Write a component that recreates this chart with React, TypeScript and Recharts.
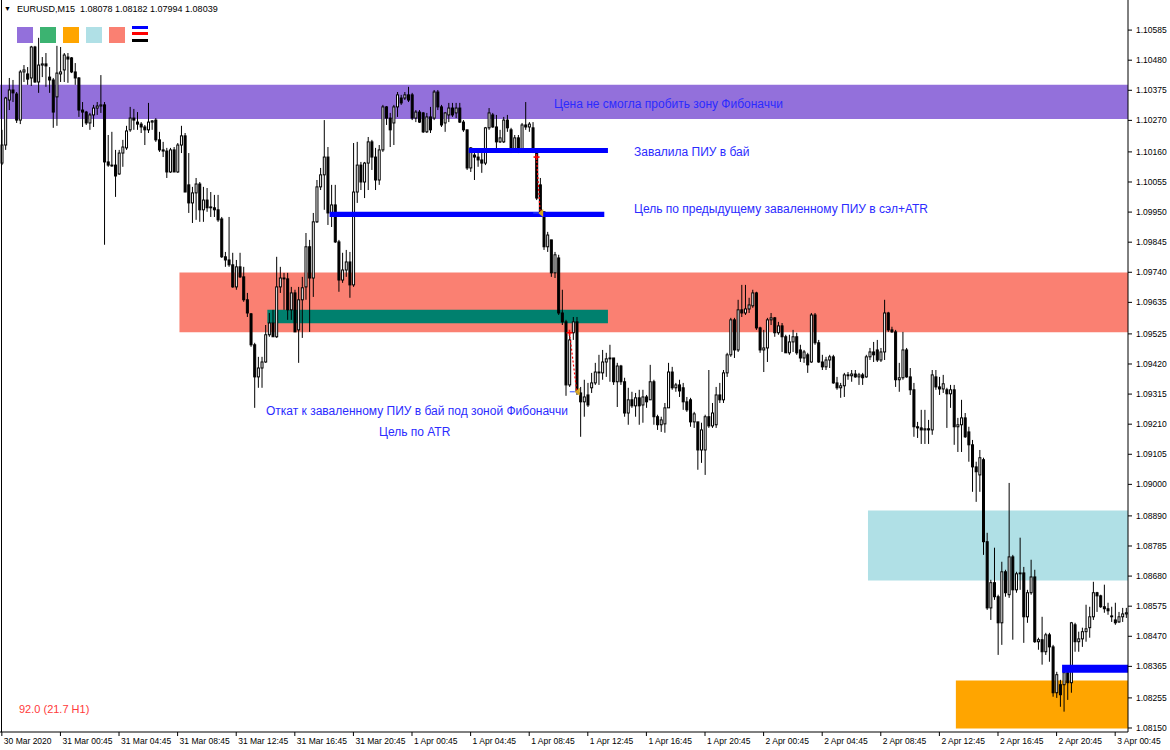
import React from 'react';
import { ComposedChart, Bar, XAxis, YAxis, ReferenceArea, ReferenceLine, ReferenceDot } from 'recharts';

// EURUSD M15 candles, 30 Mar 2020 20:45 .. 3 Apr 2020 01:30 (308 bars)
const opens = [
  1.10121,1.10184,1.10341,1.10376,1.10362,1.10271,1.10439,1.10432,1.10418,1.10526,
  1.10404,1.10463,1.10467,1.10421,1.10411,1.10352,1.10432,1.10446,1.10491,1.10488,
  1.10439,1.10418,1.10306,1.10299,1.10261,1.10289,1.10313,1.10320,1.10324,1.10125,
  1.10114,1.10114,1.10083,1.10156,1.10174,1.10237,1.10278,1.10264,1.10257,1.10247,
  1.10237,1.10264,1.10271,1.10202,1.10167,1.10163,1.10090,1.10167,1.10090,1.10184,
  1.10216,1.10045,1.09982,1.10017,1.10048,1.09958,1.09992,1.09968,1.09965,1.09958,
  1.09926,1.09794,1.09783,1.09766,1.09689,1.09759,1.09724,1.09644,1.09595,1.09487,
  1.09375,1.09406,1.09427,1.09522,1.09563,1.09515,1.09689,1.09720,1.09717,1.09609,
  1.09668,1.09539,1.09644,1.09689,1.09829,1.09720,1.09916,1.10038,1.10080,1.10142,
  1.09947,1.09975,1.09846,1.09713,1.09748,1.09776,1.09696,1.10020,1.10114,1.10055,
  1.10121,1.10195,1.10142,1.10062,1.10167,1.10317,1.10278,1.10261,1.10317,1.10348,
  1.10348,1.10359,1.10359,1.10278,1.10299,1.10296,1.10230,1.10282,1.10278,1.10369,
  1.10317,1.10261,1.10289,1.10313,1.10296,1.10313,1.10264,1.10237,1.10104,1.10149,
  1.10142,1.10132,1.10121,1.10244,1.10289,1.10247,1.10195,1.10195,1.10271,1.10237,
  1.10167,1.10209,1.10167,1.10254,1.10247,1.10244,1.10160,1.10045,1.09951,1.09829,
  1.09853,1.09738,1.09790,1.09598,1.09567,1.09347,1.09529,1.09567,1.09319,1.09288,
  1.09312,1.09337,1.09354,1.09392,1.09389,1.09427,1.09438,1.09441,1.09358,1.09413,
  1.09358,1.09249,1.09295,1.09274,1.09302,1.09277,1.09305,1.09295,1.09358,1.09236,
  1.09208,1.09211,1.09267,1.09392,1.09337,1.09347,1.09337,1.09288,1.09295,1.09218,
  1.09218,1.09120,1.09120,1.09236,1.09204,1.09208,1.09312,1.09295,1.09389,1.09452,
  1.09574,1.09469,1.09609,1.09598,1.09612,1.09623,1.09668,1.09546,1.09469,1.09476,
  1.09574,1.09581,1.09529,1.09553,1.09515,1.09459,1.09497,1.09515,1.09469,1.09441,
  1.09452,1.09427,1.09591,1.09494,1.09427,1.09410,1.09434,1.09445,1.09354,1.09337,
  1.09344,1.09382,1.09379,1.09385,1.09375,1.09382,1.09375,1.09445,1.09462,1.09469,
  1.09434,1.09462,1.09598,1.09539,1.09532,1.09365,1.09372,1.09469,1.09375,1.09330,
  1.09201,1.09197,1.09190,1.09194,1.09190,1.09375,1.09340,1.09333,1.09330,1.09316,
  1.09330,1.09201,1.09208,1.09232,1.09183,1.09138,1.09061,1.09033,1.09086,1.08800,
  1.08569,1.08657,1.08608,1.08517,1.08695,1.08615,1.08747,1.08632,1.08688,1.08691,
  1.08538,1.08622,1.08677,1.08451,1.08458,1.08416,1.08475,1.08433,1.08273,1.08301,
  1.08301,1.08343,1.08308,1.08510,1.08451,1.08461,1.08486,1.08500,1.08538,1.08622,
  1.08611,1.08573,1.08566,1.08541,1.08527,1.08520,1.08538,1.08548,
];

const highs = [
  1.10237,1.10352,1.10418,1.10411,1.10369,1.10446,1.10463,1.10456,1.10530,1.10530,
  1.10558,1.10491,1.10505,1.10456,1.10418,1.10530,1.10526,1.10505,1.10505,1.10491,
  1.10470,1.10421,1.10334,1.10303,1.10296,1.10324,1.10334,1.10428,1.10334,1.10219,
  1.10230,1.10167,1.10167,1.10202,1.10251,1.10317,1.10310,1.10299,1.10264,1.10254,
  1.10331,1.10271,1.10278,1.10230,1.10195,1.10174,1.10174,1.10177,1.10191,1.10251,
  1.10226,1.10156,1.10038,1.10069,1.10055,1.10038,1.10034,1.10020,1.10010,1.10010,
  1.09933,1.09811,1.09933,1.09808,1.09783,1.09808,1.09759,1.09668,1.09598,1.09494,
  1.09445,1.09445,1.09556,1.09598,1.09609,1.09794,1.09759,1.09738,1.09738,1.09689,
  1.09679,1.09689,1.09724,1.09877,1.09853,1.09947,1.10062,1.10104,1.10271,1.10177,
  1.10045,1.10045,1.09853,1.09808,1.09818,1.09811,1.10191,1.10195,1.10125,1.10125,
  1.10212,1.10202,1.10174,1.10184,1.10324,1.10320,1.10296,1.10324,1.10369,1.10359,
  1.10369,1.10387,1.10366,1.10306,1.10306,1.10299,1.10296,1.10317,1.10376,1.10376,
  1.10324,1.10299,1.10331,1.10331,1.10331,1.10331,1.10271,1.10237,1.10177,1.10167,
  1.10156,1.10156,1.10247,1.10313,1.10296,1.10289,1.10237,1.10282,1.10289,1.10244,
  1.10219,1.10219,1.10261,1.10334,1.10264,1.10264,1.10160,1.10069,1.09951,1.09881,
  1.09853,1.09811,1.09801,1.09679,1.09574,1.09532,1.09584,1.09584,1.09340,1.09365,
  1.09354,1.09389,1.09424,1.09452,1.09469,1.09459,1.09487,1.09441,1.09424,1.09417,
  1.09372,1.09337,1.09323,1.09319,1.09330,1.09330,1.09312,1.09417,1.09365,1.09243,
  1.09236,1.09284,1.09424,1.09410,1.09354,1.09365,1.09354,1.09305,1.09302,1.09253,
  1.09218,1.09215,1.09243,1.09399,1.09284,1.09340,1.09354,1.09399,1.09459,1.09581,
  1.09581,1.09644,1.09696,1.09696,1.09651,1.09679,1.09672,1.09550,1.09539,1.09581,
  1.09598,1.09584,1.09567,1.09563,1.09522,1.09522,1.09539,1.09529,1.09487,1.09469,
  1.09459,1.09598,1.09598,1.09504,1.09452,1.09445,1.09452,1.09452,1.09375,1.09354,
  1.09389,1.09392,1.09399,1.09399,1.09389,1.09389,1.09452,1.09476,1.09497,1.09504,
  1.09476,1.09644,1.09602,1.09550,1.09539,1.09424,1.09532,1.09476,1.09406,1.09354,
  1.09218,1.09260,1.09260,1.09225,1.09399,1.09399,1.09375,1.09382,1.09337,1.09347,
  1.09347,1.09232,1.09295,1.09249,1.09201,1.09155,1.09079,1.09120,1.09093,1.08831,
  1.08667,1.08779,1.08615,1.08730,1.08702,1.09005,1.08754,1.08695,1.08814,1.08712,
  1.08632,1.08737,1.08702,1.08465,1.08538,1.08482,1.08482,1.08440,1.08346,1.08318,
  1.08346,1.08364,1.08520,1.08517,1.08486,1.08500,1.08580,1.08573,1.08660,1.08625,
  1.08615,1.08650,1.08587,1.08573,1.08587,1.08555,1.08569,1.08569,
];

const lows = [
  1.10114,1.10167,1.10306,1.10334,1.10261,1.10257,1.10404,1.10394,1.10390,1.10401,
  1.10366,1.10421,1.10387,1.10366,1.10244,1.10251,1.10404,1.10404,1.10401,1.10435,
  1.10394,1.10282,1.10247,1.10254,1.10237,1.10247,1.10289,1.10296,1.09836,1.10108,
  1.10108,1.10003,1.10080,1.10108,1.10167,1.10230,1.10237,1.10237,1.10226,1.10184,
  1.10226,1.10237,1.10195,1.10160,1.10142,1.10069,1.10087,1.10090,1.10087,1.10156,
  1.10020,1.09947,1.09912,1.09923,1.09916,1.09916,1.09951,1.09933,1.09933,1.09916,
  1.09790,1.09759,1.09759,1.09686,1.09679,1.09720,1.09637,1.09584,1.09480,1.09267,
  1.09337,1.09337,1.09424,1.09515,1.09515,1.09511,1.09668,1.09609,1.09574,1.09574,
  1.09532,1.09424,1.09511,1.09644,1.09532,1.09654,1.09912,1.10027,1.09958,1.09905,
  1.09898,1.09842,1.09672,1.09703,1.09724,1.09651,1.09689,1.09982,1.10027,1.09999,
  1.10027,1.10097,1.10027,1.10045,1.10160,1.10254,1.10177,1.10184,1.10282,1.10324,
  1.10341,1.10334,1.10271,1.10264,1.10261,1.10226,1.10226,1.10226,1.10271,1.10306,
  1.10247,1.10230,1.10264,1.10282,1.10278,1.10261,1.10230,1.10097,1.10090,1.10062,
  1.10108,1.10087,1.10114,1.10237,1.10244,1.10160,1.10191,1.10191,1.10230,1.10156,
  1.10160,1.10156,1.10160,1.10237,1.10230,1.10156,1.09992,1.09933,1.09818,1.09811,
  1.09724,1.09720,1.09591,1.09556,1.09309,1.09340,1.09504,1.09312,1.09166,1.09236,
  1.09270,1.09319,1.09347,1.09347,1.09365,1.09375,1.09358,1.09347,1.09270,1.09347,
  1.09236,1.09208,1.09267,1.09236,1.09208,1.09215,1.09267,1.09295,1.09208,1.09190,
  1.09183,1.09180,1.09267,1.09330,1.09323,1.09305,1.09260,1.09253,1.09201,1.09197,
  1.09051,1.09075,1.09033,1.09197,1.09197,1.09197,1.09284,1.09284,1.09375,1.09445,
  1.09441,1.09462,1.09584,1.09591,1.09598,1.09616,1.09539,1.09459,1.09392,1.09427,
  1.09556,1.09515,1.09522,1.09462,1.09459,1.09452,1.09462,1.09452,1.09427,1.09424,
  1.09389,1.09424,1.09487,1.09424,1.09399,1.09399,1.09406,1.09351,1.09330,1.09302,
  1.09305,1.09365,1.09358,1.09372,1.09347,1.09347,1.09372,1.09434,1.09427,1.09427,
  1.09427,1.09434,1.09532,1.09529,1.09340,1.09323,1.09365,1.09372,1.09312,1.09166,
  1.09162,1.09141,1.09141,1.09141,1.09173,1.09330,1.09312,1.09319,1.09197,1.09267,
  1.09138,1.09113,1.09113,1.09162,1.09079,1.08974,1.08939,1.08974,1.08754,1.08562,
  1.08527,1.08597,1.08405,1.08440,1.08608,1.08604,1.08458,1.08622,1.08632,1.08447,
  1.08517,1.08615,1.08447,1.08423,1.08371,1.08405,1.08381,1.08259,1.08255,1.08224,
  1.08207,1.08248,1.08273,1.08416,1.08416,1.08433,1.08451,1.08465,1.08527,1.08555,
  1.08569,1.08552,1.08545,1.08520,1.08510,1.08517,1.08520,1.08534,
];

const closes = [
  1.10184,1.10348,1.10376,1.10366,1.10271,1.10439,1.10446,1.10414,1.10526,1.10404,
  1.10463,1.10467,1.10460,1.10411,1.10299,1.10435,1.10439,1.10498,1.10484,1.10439,
  1.10418,1.10306,1.10299,1.10261,1.10289,1.10313,1.10320,1.10324,1.10125,1.10114,
  1.10111,1.10076,1.10156,1.10177,1.10233,1.10278,1.10271,1.10257,1.10247,1.10237,
  1.10264,1.10268,1.10202,1.10167,1.10163,1.10090,1.10167,1.10090,1.10184,1.10216,
  1.10020,1.09982,1.10017,1.10048,1.09958,1.09992,1.09965,1.09965,1.09958,1.09923,
  1.09794,1.09783,1.09766,1.09689,1.09759,1.09724,1.09644,1.09598,1.09487,1.09375,
  1.09406,1.09427,1.09522,1.09563,1.09515,1.09689,1.09720,1.09717,1.09609,1.09668,
  1.09532,1.09644,1.09686,1.09829,1.09720,1.09916,1.10038,1.10080,1.10142,1.09947,
  1.09975,1.09846,1.09713,1.09748,1.09776,1.09696,1.10020,1.10114,1.10055,1.10121,
  1.10195,1.10142,1.10062,1.10167,1.10317,1.10278,1.10237,1.10317,1.10359,1.10331,
  1.10359,1.10341,1.10278,1.10299,1.10264,1.10230,1.10282,1.10237,1.10369,1.10317,
  1.10254,1.10296,1.10313,1.10289,1.10313,1.10264,1.10237,1.10104,1.10174,1.10142,
  1.10132,1.10121,1.10244,1.10296,1.10247,1.10195,1.10209,1.10271,1.10244,1.10160,
  1.10209,1.10167,1.10254,1.10247,1.10257,1.10160,1.09999,1.09951,1.09829,1.09870,
  1.09738,1.09801,1.09598,1.09567,1.09347,1.09504,1.09567,1.09323,1.09288,1.09305,
  1.09277,1.09354,1.09392,1.09389,1.09427,1.09438,1.09441,1.09358,1.09413,1.09358,
  1.09249,1.09295,1.09274,1.09302,1.09274,1.09305,1.09288,1.09358,1.09236,1.09208,
  1.09225,1.09267,1.09392,1.09337,1.09347,1.09326,1.09288,1.09260,1.09218,1.09246,
  1.09120,1.09190,1.09236,1.09204,1.09249,1.09312,1.09295,1.09389,1.09452,1.09574,
  1.09469,1.09609,1.09598,1.09612,1.09626,1.09668,1.09546,1.09469,1.09476,1.09574,
  1.09581,1.09529,1.09553,1.09515,1.09459,1.09497,1.09515,1.09459,1.09441,1.09462,
  1.09417,1.09591,1.09494,1.09427,1.09410,1.09434,1.09445,1.09354,1.09337,1.09344,
  1.09382,1.09379,1.09385,1.09375,1.09382,1.09372,1.09445,1.09462,1.09452,1.09434,
  1.09462,1.09598,1.09539,1.09532,1.09365,1.09372,1.09469,1.09375,1.09330,1.09201,
  1.09197,1.09190,1.09194,1.09190,1.09382,1.09340,1.09333,1.09351,1.09316,1.09330,
  1.09201,1.09208,1.09232,1.09166,1.09138,1.09061,1.09044,1.09093,1.08800,1.08569,
  1.08657,1.08608,1.08517,1.08695,1.08622,1.08747,1.08632,1.08688,1.08691,1.08538,
  1.08622,1.08677,1.08451,1.08458,1.08416,1.08475,1.08433,1.08273,1.08336,1.08266,
  1.08343,1.08308,1.08517,1.08451,1.08461,1.08486,1.08496,1.08538,1.08622,1.08611,
  1.08573,1.08566,1.08559,1.08538,1.08517,1.08538,1.08548,1.08552,
];

const timeLabels = [
  '30 Mar 2020', '31 Mar 00:45', '31 Mar 04:45', '31 Mar 08:45', '31 Mar 12:45',
  '31 Mar 16:45', '31 Mar 20:45', '1 Apr 00:45', '1 Apr 04:45', '1 Apr 08:45',
  '1 Apr 12:45', '1 Apr 16:45', '1 Apr 20:45', '2 Apr 00:45', '2 Apr 04:45',
  '2 Apr 08:45', '2 Apr 12:45', '2 Apr 16:45', '2 Apr 20:45', '3 Apr 00:45',
];
const timeLabelBars = [0, 16, 32, 48, 64, 80, 96, 112, 128, 144, 160, 176, 192, 208, 224, 240, 256, 272, 288, 304];

const priceTicks = [
  1.10585, 1.10480, 1.10375, 1.10270, 1.10160, 1.10055, 1.09950, 1.09845, 1.09740, 1.09635,
  1.09525, 1.09420, 1.09315, 1.09210, 1.09105, 1.09000, 1.08890, 1.08785, 1.08680, 1.08575,
  1.08470, 1.08365, 1.08255, 1.08150,
];

// zones: [first bar, last bar, low price, high price]
const zoneBars = [[0, 307], [49, 307], [73, 165], [237, 307], [261, 307]];
const zonePrices = [[1.10275, 1.10394], [1.09531, 1.09739], [1.09562, 1.09609], [1.08665, 1.08909], [1.08148, 1.08316]];
const zoneColors = ['#9370DB', '#FA8072', '#00806E', '#B0E0E6', '#FFA500'];

// blue levels: [first bar, last bar, low price, high price]
const levelBars = [[128, 165], [90, 164], [290, 307]];
const levelPrices = [[1.10156, 1.10174], [1.09933, 1.09951], [1.08343, 1.08371]];

// trades: entry bar, entry price, exit bar, exit price
const tradeEntryBars = [146, 155];
const tradeEntryPrices = [1.10142, 1.09529];
const tradeExitBars = [147, 157];
const tradeExitPrices = [1.09947, 1.09323];

const data = opens.map((o, i) => ({
  i,
  o,
  h: highs[i],
  l: lows[i],
  c: closes[i],
  range: [lows[i], highs[i]],
}));

const AXIS_FONT = '"Liberation Sans", Arial, sans-serif';

const Candle = (props: any) => {
  const { x, y, width, height, payload } = props;
  if (!payload || x == null || y == null) return null;
  const { o, h, l, c } = payload;
  const yTop = Math.min(y, y + height);
  const yBot = Math.max(y, y + height);
  const span = h - l;
  const toY = (p: number) => (span > 0 ? yTop + ((h - p) / span) * (yBot - yTop) : yTop);
  const yo = toY(o);
  const yc = toY(c);
  const top = Math.min(yo, yc);
  const bot = Math.max(yo, yc);
  const cx = x + width / 2;
  const bull = c >= o;
  return (
    <g>
      <line x1={cx} x2={cx} y1={yTop} y2={yBot} stroke="#000" strokeWidth={1} />
      <rect
        x={cx - 1}
        y={top}
        width={2}
        height={Math.max(bot - top, 0.6)}
        fill={bull ? '#ffffff' : '#000000'}
        stroke="#000"
        strokeWidth={1}
      />
    </g>
  );
};

const TimeTick = (props: any) => {
  const { x, y, payload } = props;
  const k = timeLabelBars.indexOf(payload.value);
  if (k < 0) return null;
  return (
    <g>
      <line x1={x} x2={x} y1={y} y2={y + 4} stroke="#000" strokeWidth={1} />
      <text x={x + 2} y={y + 12} fontSize={8.5} fontFamily={AXIS_FONT} fill="#000" textAnchor="start">
        {timeLabels[k]}
      </text>
    </g>
  );
};

const PriceTick = (props: any) => {
  const { x, y, payload } = props;
  return (
    <g>
      <line x1={x} x2={x + 4} y1={y} y2={y} stroke="#000" strokeWidth={1} />
      <text x={x + 8} y={y + 3} fontSize={8.5} fontFamily={AXIS_FONT} fill="#000" textAnchor="start">
        {Number(payload.value).toFixed(5)}
      </text>
    </g>
  );
};

const Cross = (props: any) => {
  const { cx, cy } = props;
  if (cx == null || cy == null) return null;
  return (
    <g stroke="#ff0000" strokeWidth={1.6}>
      <line x1={cx - 3} x2={cx + 3} y1={cy} y2={cy} />
      <line x1={cx} x2={cx} y1={cy - 3} y2={cy + 3} />
    </g>
  );
};

const ExitArrow = (props: any) => {
  const { cx, cy } = props;
  if (cx == null || cy == null) return null;
  return (
    <g>
      <line x1={cx - 7} x2={cx - 2} y1={cy} y2={cy} stroke="#3050ff" strokeWidth={1} />
      <polygon points={`${cx - 2},${cy} ${cx + 3},${cy - 4} ${cx + 3},${cy + 4}`} fill="#DAA520" />
    </g>
  );
};

const blueText: React.CSSProperties = {
  position: 'absolute',
  color: '#2b2bff',
  fontFamily: AXIS_FONT,
  fontSize: 12,
  lineHeight: '14px',
  whiteSpace: 'nowrap',
};

const legendColors = ['#9370DB', '#3CB371', '#FFA500', '#B0E0E6', '#FA8072'];

export default function App() {
  return (
    <div style={{ position: 'absolute', left: 0, top: 0, width: 1170, height: 750, background: '#fff', overflow: 'hidden' }}>
      <ComposedChart
        width={1170}
        height={750}
        data={data}
        margin={{ top: 0, right: 0, bottom: 0, left: 0 }}
        barCategoryGap={0}
        barGap={0}
      >
        <XAxis
          dataKey="i"
          type="category"
          height={18}
          ticks={timeLabelBars}
          interval={0}
          tick={<TimeTick />}
          tickLine={false}
          tickSize={0}
          tickMargin={0}
          axisLine={{ stroke: '#000' }}
        />
        <YAxis
          orientation="right"
          type="number"
          width={42}
          domain={[1.08136, 1.1069]}
          allowDataOverflow
          ticks={priceTicks}
          interval={0}
          tick={<PriceTick />}
          tickLine={false}
          tickSize={0}
          tickMargin={0}
          axisLine={{ stroke: '#000' }}
        />
        {zoneBars.map((zb, k) => (
          <ReferenceArea
            key={'z' + k}
            x1={zb[0]}
            x2={zb[1]}
            y1={zonePrices[k][0]}
            y2={zonePrices[k][1]}
            fill={zoneColors[k]}
            fillOpacity={1}
            stroke="none"
            ifOverflow="visible"
          />
        ))}
        <Bar dataKey="range" shape={<Candle />} isAnimationActive={false} />
        {levelBars.map((lb, k) => (
          <ReferenceArea
            key={'l' + k}
            x1={lb[0]}
            x2={lb[1]}
            y1={levelPrices[k][0]}
            y2={levelPrices[k][1]}
            fill="#0000FF"
            fillOpacity={1}
            stroke="none"
            zIndex={350}
          />
        ))}
        {tradeEntryBars.map((b, k) => (
          <ReferenceLine
            key={'t' + k}
            segment={[
              { x: b, y: tradeEntryPrices[k] },
              { x: tradeExitBars[k], y: tradeExitPrices[k] },
            ]}
            stroke="#ff0000"
            strokeWidth={1.2}
            strokeDasharray="2 2"
          />
        ))}
        {tradeEntryBars.map((b, k) => (
          <ReferenceDot key={'e' + k} x={b} y={tradeEntryPrices[k]} r={3} shape={<Cross />} />
        ))}
        {tradeExitBars.map((b, k) => (
          <ReferenceDot key={'x' + k} x={b} y={tradeExitPrices[k]} r={3} shape={<ExitArrow />} />
        ))}
      </ComposedChart>

      {/* chart frame left edge */}
      <div style={{ position: 'absolute', left: 1, top: 0, width: 1, height: 732, background: '#000' }} />

      {/* header */}
      <div style={{ position: 'absolute', left: 4, top: 3, fontFamily: AXIS_FONT, fontSize: 7, lineHeight: '12px', color: '#000' }}>▼</div>
      <div style={{ position: 'absolute', left: 17, top: 3, fontFamily: AXIS_FONT, fontSize: 9, lineHeight: '12px', color: '#000', whiteSpace: 'pre' }}>
        {'EURUSD,M15  1.08078 1.08182 1.07994 1.08039'}
      </div>

      {/* object legend */}
      {legendColors.map((col, k) => (
        <div key={'lg' + k} style={{ position: 'absolute', left: 17 + k * 23, top: 27, width: 16, height: 16, background: col }} />
      ))}
      <div style={{ position: 'absolute', left: 132, top: 26, width: 16, height: 3, background: '#0000ff' }} />
      <div style={{ position: 'absolute', left: 132, top: 32, width: 16, height: 3, background: '#ff0000' }} />
      <div style={{ position: 'absolute', left: 132, top: 39, width: 16, height: 3, background: '#000000' }} />

      {/* annotations */}
      <div style={{ ...blueText, left: 554, top: 97 }}>Цена не смогла пробить зону Фибоначчи</div>
      <div style={{ ...blueText, left: 634, top: 145 }}>Завалила ПИУ в бай</div>
      <div style={{ ...blueText, left: 634, top: 202 }}>Цель по предыдущему заваленному ПИУ в сэл+ATR</div>
      <div style={{ ...blueText, left: 266, top: 404 }}>Откат к заваленному ПИУ в бай под зоной Фибоначчи</div>
      <div style={{ ...blueText, left: 379, top: 425 }}>Цель по ATR</div>
      <div style={{ position: 'absolute', left: 19, top: 702, fontFamily: AXIS_FONT, fontSize: 11, lineHeight: '14px', color: '#ff3a3a' }}>
        92.0 (21.7 H1)
      </div>
    </div>
  );
}
